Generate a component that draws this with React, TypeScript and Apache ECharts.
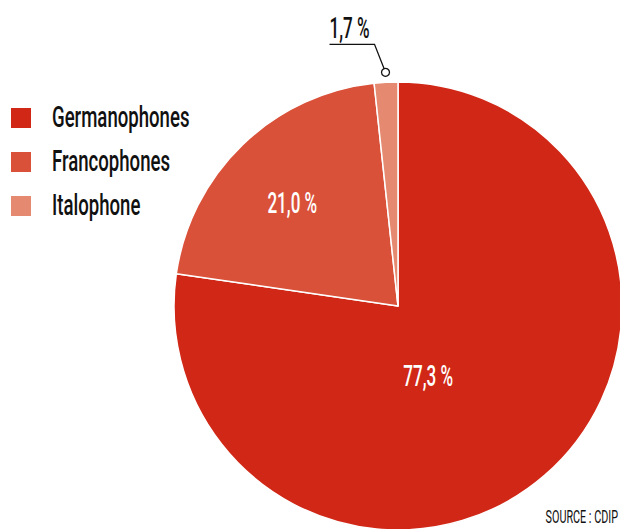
import React, { useEffect, useRef } from "react";
import * as echarts from "echarts";

const categories = ["Germanophones", "Francophones", "Italophone"];
const values = [77.3, 21.0, 1.7];
const valueLabels = ["77,3 %", "21,0 %", "1,7 %"];
const sourceText = "SOURCE : CDIP";

const colors = ["#D02716", "#DA513A", "#E58A70"];
const labelOffsets: number[][] = [[-43, -15], [-28, -23]];
const FONT = "Roboto, 'Noto Sans', sans-serif";

const CX = 398;
const CY = 306;
const R = 224;

export default function App() {
  const ref = useRef<HTMLDivElement>(null);
  useEffect(() => {
    document.body.style.margin = "0";
    if (!ref.current) return;
    const chart = echarts.init(ref.current, null, { renderer: "svg" });
    const total = values.reduce((a, b) => a + b, 0);
    let acc = 0;
    const mids = values.map((v) => {
      const m = ((acc + v / 2) / total) * Math.PI * 2;
      acc += v;
      return m;
    });

    const graphics: any[] = [];

    // legend
    categories.forEach((name, i) => {
      graphics.push({
        type: "rect",
        shape: { x: 11, y: 108 + i * 44, width: 20, height: 20 },
        style: { fill: colors[i] },
      });
      graphics.push({
        type: "text",
        x: 52,
        y: 117 + i * 44,
        scaleX: 0.62,
        style: {
          text: name,
          x: 0,
          y: 0,
          fontSize: 30,
          fontWeight: 500,
          fontFamily: FONT,
          fill: "#111",
          align: "left",
          verticalAlign: "middle",
        },
      });
    });

    // inside value labels
    [0, 1].forEach((i) => {
      const px = CX + (R / 2) * Math.sin(mids[i]) + labelOffsets[i][0];
      const py = CY - (R / 2) * Math.cos(mids[i]) + labelOffsets[i][1];
      graphics.push({
        type: "text",
        x: px,
        y: py,
        scaleX: 0.57,
        z: 50,
        style: {
          text: valueLabels[i],
          x: 0,
          y: 0,
          fontSize: 30,
          fontWeight: 500,
          fontFamily: FONT,
          fill: "#fff",
          align: "center",
          verticalAlign: "middle",
        },
      });
    });

    // outside label with leader line
    const sx = CX + (R + 10) * Math.sin(mids[2]);
    const sy = CY - (R + 10) * Math.cos(mids[2]);
    const ex = sx - 11;
    const ey = sy - 28;
    const tx = ex - 45;
    graphics.push({
      type: "polyline",
      z: 50,
      shape: { points: [[sx, sy], [ex, ey], [tx, ey]] },
      style: { stroke: "#111", lineWidth: 1.3, fill: null },
    });
    graphics.push({
      type: "circle",
      z: 60,
      shape: { cx: sx, cy: sy, r: 4 },
      style: { fill: "#fff", stroke: "#111", lineWidth: 1.3 },
    });
    graphics.push({
      type: "text",
      x: tx,
      y: ey - 2,
      scaleX: 0.57,
      z: 50,
      style: {
        text: valueLabels[2],
        x: 0,
        y: 0,
        fontSize: 30,
        fontWeight: 500,
        fontFamily: FONT,
        fill: "#111",
        align: "left",
        verticalAlign: "bottom",
      },
    });

    // source
    graphics.push({
      type: "text",
      x: 618,
      y: 517,
      scaleX: 0.6,
      style: {
        text: sourceText,
        x: 0,
        y: 0,
        fontSize: 18,
        fontFamily: FONT,
        fill: "#111",
        align: "right",
        verticalAlign: "middle",
      },
    });

    chart.setOption({
      animation: false,
      graphic: graphics,
      series: [
        {
          type: "pie",
          center: [CX, CY],
          radius: R,
          startAngle: 90,
          clockwise: true,
          avoidLabelOverlap: false,
          label: { show: false },
          labelLine: { show: false },
          itemStyle: { borderColor: "#fff", borderWidth: 1.5 },
          emphasis: { disabled: true },
          data: categories.map((name, i) => ({
            name,
            value: values[i],
            itemStyle: { color: colors[i] },
          })),
        },
      ],
    });
    return () => chart.dispose();
  }, []);
  return <div ref={ref} style={{ width: 620, height: 529 }} />;
}
